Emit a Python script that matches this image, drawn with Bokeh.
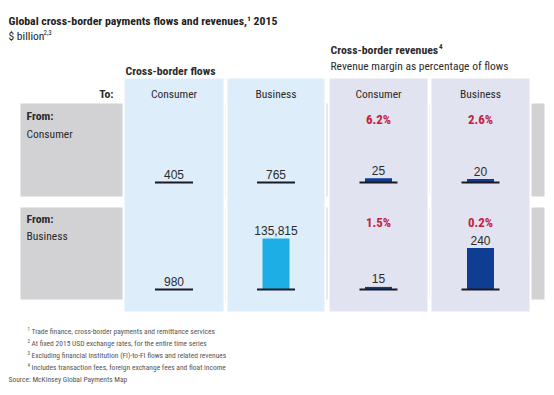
from bokeh.plotting import figure
from bokeh.models import Range1d, ColumnDataSource
from bokeh.core.properties import value
from bokeh.embed import file_html
from bokeh.resources import INLINE

# ---- data ----
to_categories = ["Consumer", "Business"]
from_categories = ["Consumer", "Business"]
flows_from_consumer = [405, 765]
flows_from_business = [980, 135815]
revenues_from_consumer = [25, 20]
revenues_from_business = [15, 240]
margin_from_consumer = ["6.2%", "2.6%"]
margin_from_business = ["1.5%", "0.2%"]
footnotes = [
    "Trade finance, cross-border payments and remittance services",
    "At fixed 2015 USD exchange rates, for the entire time series",
    "Excluding financial institution (FI)-to-FI flows and related revenues",
    "Includes transaction fees, foreign exchange fees and float income",
]
source_text = "Source: McKinsey Global Payments Map"

NARROW = value("Roboto Condensed")
REG = value("Liberation Sans")
DARK = "#2b2b2b"

W, H = 548, 392
p = figure(width=W, height=H, output_backend="svg", toolbar_location=None,
           x_range=Range1d(0, W), y_range=Range1d(H, 0),
           x_axis_type=None, y_axis_type=None, min_border=0,
           outline_line_color=None, background_fill_color="white",
           border_fill_color="white")
p.grid.visible = False

# layout
flow_cols = [(123, 224), (226, 325)]
rev_cols = [(328, 428), (430, 530)]
flow_cx = [(a + b) / 2 for a, b in flow_cols]
rev_cx = [(a + b) / 2 for a, b in rev_cols]
row_base = [182, 289]
panel_top, panel_bot = 77, 312
bands = [(103, 196), (207, 299)]

# grey "From" bands
for t, b in bands:
    p.quad(left=20, right=544, top=t, bottom=b, fill_color="#d2d2d4", line_color=None)

# panels
p.quad(left=[c[0] for c in flow_cols], right=[c[1] for c in flow_cols],
       top=panel_top, bottom=panel_bot, fill_color="#ddeefa",
       line_color="white", line_width=2)
p.quad(left=[c[0] for c in rev_cols], right=[c[1] for c in rev_cols],
       top=panel_top, bottom=panel_bot, fill_color="#e2e3f0",
       line_color="white", line_width=2)

# scales for bars
def row_range(base_px, px_per_unit):
    return Range1d(start=-(H - base_px) / px_per_unit, end=base_px / px_per_unit)

flow_ppu = 51 / 135815
rev_ppu = 41.5 / 240
p.extra_y_ranges = {
    "f0": row_range(row_base[0], flow_ppu),
    "f1": row_range(row_base[1], flow_ppu),
    "r0": row_range(row_base[0], rev_ppu),
    "r1": row_range(row_base[1], rev_ppu),
}

def draw_row(name, xs, vals, color):
    src = ColumnDataSource(dict(x=xs, top=vals, lab=[f"{v:,}" for v in vals]))
    p.vbar(x="x", top="top", bottom=0, width=27, source=src, fill_color=color,
           line_color=None, y_range_name=name)
    p.segment(x0=[x - 19 for x in xs], x1=[x + 19 for x in xs], y0=0, y1=0,
              line_color="#1a1a26", line_width=2, y_range_name=name)
    p.text(x="x", y="top", text="lab", source=src, y_range_name=name,
           text_align="center", text_baseline="alphabetic", y_offset=-8,
           text_font=REG, text_font_size="12px", text_color=DARK)

draw_row("f0", flow_cx, flows_from_consumer, "#1caee4")
draw_row("f1", flow_cx, flows_from_business, "#1caee4")
draw_row("r0", rev_cx, revenues_from_consumer, "#0e3d92")
draw_row("r1", rev_cx, revenues_from_business, "#0e3d92")

# margins
p.text(x=rev_cx, y=[119, 119], text=margin_from_consumer, text_align="center",
       text_baseline="alphabetic", text_font=NARROW, text_font_style="bold",
       text_font_size="13px", text_color="#c4203c")
p.text(x=rev_cx, y=[222, 222], text=margin_from_business, text_align="center",
       text_baseline="alphabetic", text_font=NARROW, text_font_style="bold",
       text_font_size="13px", text_color="#c4203c")

# column headers
p.text(x=flow_cx + rev_cx, y=[93] * 4, text=to_categories * 2, text_align="center",
       text_baseline="alphabetic", text_font=NARROW, text_font_size="11.5px",
       text_color=DARK)
p.text(x=[113], y=[93], text=["To:"], text_align="right", text_baseline="alphabetic",
       text_font=NARROW, text_font_style="bold", text_font_size="11.8px", text_color=DARK)

# row headers
p.text(x=[26, 26], y=[115, 218], text=["From:", "From:"], text_baseline="alphabetic",
       text_font=NARROW, text_font_style="bold", text_font_size="11.8px", text_color=DARK)
p.text(x=[26, 26], y=[133, 235], text=from_categories, text_baseline="alphabetic",
       text_font=NARROW, text_font_size="11.5px", text_color=DARK)

# group headers
p.text(x=[125], y=[70], text=["Cross-border flows"], text_baseline="alphabetic",
       text_font=NARROW, text_font_style="bold", text_font_size="11.8px", text_color=DARK)
p.text(x=[330], y=[49], text=["Cross-border revenues"], text_baseline="alphabetic",
       text_font=NARROW, text_font_style="bold", text_font_size="11.8px", text_color=DARK)
p.text(x=[330], y=[65], text=["Revenue margin as percentage of flows"], text_baseline="alphabetic",
       text_font=NARROW, text_font_size="11.5px", text_color=DARK)

# title
p.text(x=[8], y=[20], text=["Global cross-border payments flows and revenues,\u00b9 2015"],
       text_baseline="alphabetic", text_font=NARROW, text_font_style="bold",
       text_font_size="11.8px", text_color="#222222")
p.text(x=[8], y=[35], text=["$ billion"], text_baseline="alphabetic", text_font=NARROW,
       text_font_size="11.5px", text_color="#222222")
p.text(x=[43], y=[32], text=["2,3"], text_baseline="alphabetic", text_font=NARROW,
       text_font_size="7px", text_color="#222222")
p.text(x=[438.5], y=[46], text=["4"], text_baseline="alphabetic", text_font=NARROW,
       text_font_size="7px", text_font_style="bold", text_color=DARK)

# footnotes
fy = [331, 343, 355, 367]
p.text(x=[27] * 4, y=[y - 3 for y in fy], text=["1", "2", "3", "4"], text_baseline="alphabetic",
       text_font=NARROW, text_font_size="5px", text_color="#555555")
p.text(x=[31] * 4, y=fy, text=footnotes, text_baseline="alphabetic",
       text_font=NARROW, text_font_size="7.5px", text_color="#555555")
p.text(x=[8], y=[379], text=[source_text], text_baseline="alphabetic",
       text_font=NARROW, text_font_size="7.5px", text_color="#555555")

open("out.html", "w").write(file_html(p, INLINE))
